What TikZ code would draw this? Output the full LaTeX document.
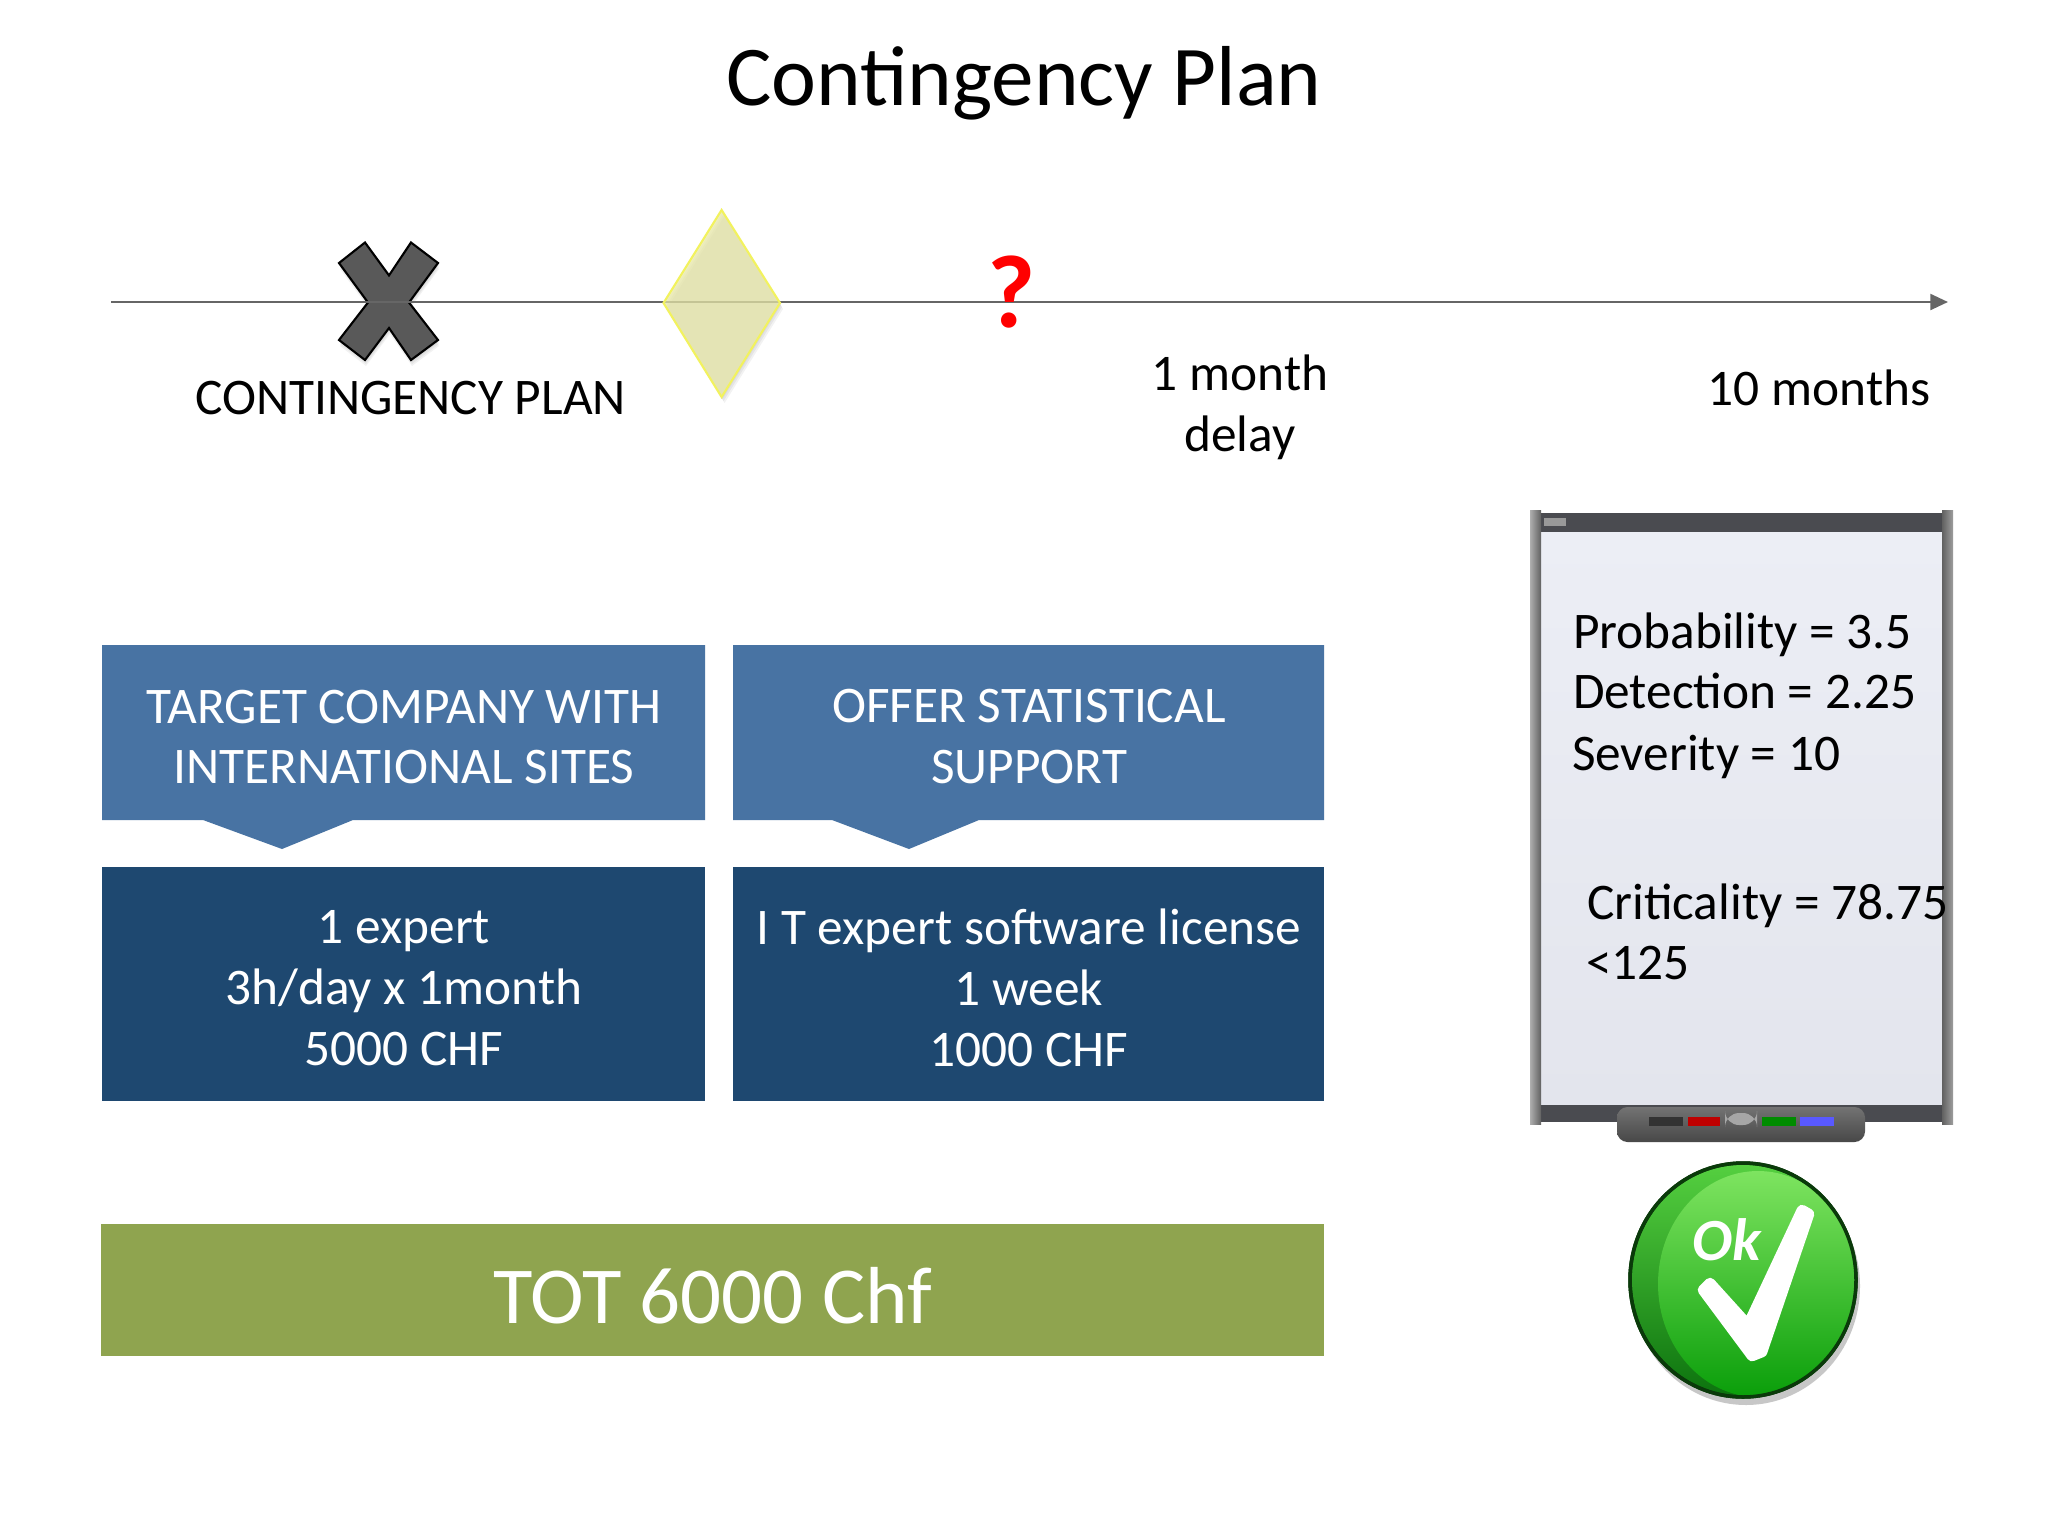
\documentclass[tikz,border=0pt]{standalone}
\usepackage{fontspec}
\setmainfont{Carlito}
\usetikzlibrary{arrows.meta}
\definecolor{bluehd}{HTML}{4873A3}
\definecolor{bluedk}{HTML}{1E4870}
\definecolor{olive}{HTML}{8FA44F}
\definecolor{bardk}{HTML}{4A4B50}
\definecolor{boardA}{HTML}{ECEEF5}
\definecolor{boardB}{HTML}{E3E5ED}
\definecolor{faceA}{HTML}{7EE460}
\definecolor{faceB}{HTML}{0A9E0A}
\definecolor{rimA}{HTML}{55D040}
\definecolor{rimB}{HTML}{0C720E}
\definecolor{rimline}{HTML}{0A3A0A}
\definecolor{dfill}{HTML}{E9E9A8}
\definecolor{dline}{HTML}{F2F25E}
\tikzset{
  every node/.style={inner sep=0pt,outer sep=0pt},
  bodytext/.style={font=\fontsize{14.6}{17.3}\selectfont},
  tlabel/.style={bodytext,align=center,text=black},
  wlabel/.style={bodytext,align=center,text=white},
  blabel/.style={bodytext,anchor=base west,text=black},
  softsh/.style={fill=black,fill opacity=.05,draw=none}
}
\begin{document}
\begin{tikzpicture}[x=0.01cm,y=-0.01cm]
\useasboundingbox (0,0) rectangle (2048,1536);
\fill[white] (0,0) rectangle (2048,1536);
% title
\node[font=\fontsize{24.2}{29}\selectfont,anchor=base] (title) at (1024,105) {Contingency Plan};
% X marker
\foreach \o in {2,4,6}{
\fill[softsh,shift={(1,\o)}]
  (365,242.5)--(389,275.4)--(411,242.5)--(438,263)--(409,302.5)--(438,340)--(411,360)--(389,328)--(365,360)--(339,340)--(368,302.5)--(339,263)--cycle;}
\draw[fill=black!65,draw=black,line width=.6pt]
  (365,242.5)--(389,275.4)--(411,242.5)--(438,263)--(409,302.5)--(438,340)--(411,360)--(389,328)--(365,360)--(339,340)--(368,302.5)--(339,263)--cycle;
% diamond shadow
\foreach \o in {2,4,6}{
\fill[softsh,shift={(\o*.5,\o)}] (721.6,210)--(780,303)--(721.6,397)--(663.5,303)--cycle;}
% timeline
\coordinate (tlstart) at (111,302);
\coordinate (tlend) at (1948,302);
\draw[draw=black!60,line width=.7pt,-{Triangle[length=5pt,width=4.5pt,fill=black!60]}] (tlstart) -- (tlend);
% diamond
\fill[dfill,fill opacity=.72] (721.6,210)--(780,303)--(721.6,397)--(663.5,303)--cycle;
\draw[dline,line width=.6pt,line join=miter] (721.6,210)--(780,303)--(721.6,397)--(663.5,303)--cycle;
% question mark
\node[font=\fontsize{29.5}{32}\bfseries\selectfont,text=red,anchor=base] (qm) at (1012,327) {?};
% timeline labels
\node[tlabel,anchor=base] (lbcp) at (410.5,414) {CONTINGENCY PLAN};
\node[tlabel] (lbm) at (1240,407) {1 month\\delay};
\node[tlabel,anchor=base] (lbt) at (1819,405) {10 months};
% header boxes
\fill[bluehd] (102,645) -- (705,645) -- (705,820) -- (353,820) -- (282,849) -- (203,820) -- (102,820) -- cycle;
\fill[bluehd] (733,645) -- (1324,645) -- (1324,820) -- (979,820) -- (909,849) -- (832,820) -- (733,820) -- cycle;
\node[wlabel] (h1) at (404,737) {TARGET COMPANY WITH\\INTERNATIONAL SITES};
\node[wlabel] (h2) at (1029,736.5) {OFFER STATISTICAL\\SUPPORT};
% content boxes
\fill[bluedk] (102,867) rectangle (705,1101);
\fill[bluedk] (733,867) rectangle (1324,1101);
\node[wlabel] (c1) at (404,988) {1 expert\\3h/day x 1month\\5000 CHF};
\node[wlabel] (c2) at (1029,987.5) {I T expert software license\\1 week\\1000 CHF};
% total
\fill[olive] (101,1224) rectangle (1324,1356);
\node[font=\fontsize{23}{27}\selectfont,text=white,anchor=base] (tot) at (713,1323) {TOT 6000 Chf};
% whiteboard
\shade[top color=boardA,bottom color=boardB] (1541,532) rectangle (1942,1105);
\fill[bardk] (1541,513) rectangle (1942,532);
\fill[black!40] (1544,518) rectangle (1566,526);
\fill[bardk] (1541,1105) rectangle (1942,1122);
\shade[left color=black!32,right color=black!62] (1530,510) rectangle (1541,1124);
\shade[left color=black!62,right color=black!38] (1942,510) rectangle (1953,1124);
\shade[top color=black!55,bottom color=black!72,rounded corners=3pt] (1617,1107) rectangle (1865,1142);
\fill[black!80] (1649,1117) rectangle (1683,1126);
\fill[red!75!black] (1688,1117) rectangle (1720,1126);
\fill[green!55!black] (1762,1117) rectangle (1796,1126);
\fill[blue!65] (1800,1117) rectangle (1834,1126);
\fill[black!35,rounded corners=4pt] (1725,1113) rectangle (1757,1125);
\node[blabel] (p) at (1573,648) {Probability = 3.5};
\node[blabel] (d) at (1573,708) {Detection = 2.25};
\node[blabel] (s) at (1572,770) {Severity = 10};
\node[blabel] (cr) at (1587,919) {Criticality = 78.75};
\node[blabel] (lt) at (1586,979) {<125};
% OK button
\fill[black!22] (1746,1286) ellipse [x radius=114,y radius=119];
\shade[top color=rimA,bottom color=rimB,draw=rimline,line width=1pt] (1743,1280) ellipse [x radius=113,y radius=117];
\begin{scope}
\clip (1743,1280) ellipse [x radius=112,y radius=116];
\shade[top color=faceA,bottom color=faceB] (1758,1284) ellipse [x radius=100,y radius=113];
\end{scope}
\draw[rimline,line width=1pt] (1743,1280) ellipse [x radius=113,y radius=117];
\filldraw[white,line width=3pt,line join=round] (1703,1290)--(1710,1283)--(1748,1325)--(1802,1210)--(1809,1214)--(1762,1352)--(1752,1356)--cycle;
\node[font=\fontsize{17}{20}\bfseries\itshape\selectfont,text=white] (ok) at (1727,1240) {Ok};
\end{tikzpicture}
\end{document}
